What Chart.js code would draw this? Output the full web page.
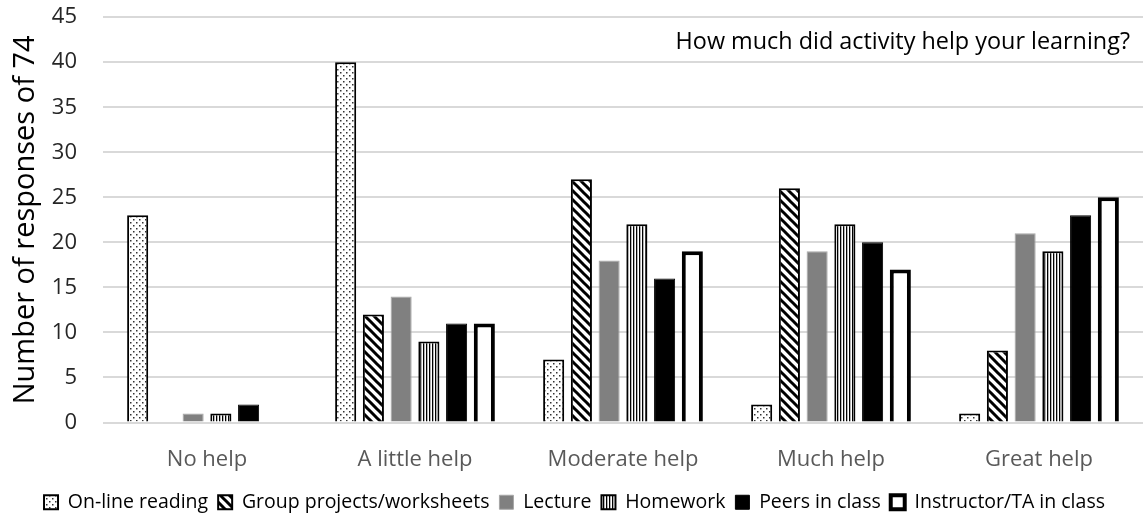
<!DOCTYPE html>
<html>
<head>
<meta charset="utf-8">
<script src="https://cdn.jsdelivr.net/npm/chart.js@4"></script>
<style>
    body { margin: 0; background: #fff; }
    #frame { width: 1145px; height: 516px; position: relative; overflow: hidden; }
    #wrap { width: 1145px; height: 526px; position: absolute; left: 0; top: -4px; }
</style>
</head>
<body>
<div id="frame"><div id="wrap"><canvas id="helpChart"></canvas></div></div>
<script>
var categories = ['No help', 'A little help', 'Moderate help', 'Much help', 'Great help'];
var seriesNames = ['On-line reading', 'Group projects/worksheets', 'Lecture', 'Homework', 'Peers in class', 'Instructor/TA in class'];
var onlineReading = [23, 40, 7, 2, 1];
var groupProjects = [0, 12, 27, 26, 8];
var lecture = [1, 14, 18, 19, 21];
var homework = [1, 9, 22, 22, 19];
var peers = [2, 11, 16, 20, 23];
var instructor = [0, 11, 19, 17, 25];
var yTicks = [0, 5, 10, 15, 20, 25, 30, 35, 40, 45];

var FONT = "'Open Sans', sans-serif";

function makeTile(w, h, draw) {
    var c = document.createElement('canvas');
    c.width = w;
    c.height = h;
    var g = c.getContext('2d');
    g.fillStyle = '#fff';
    g.fillRect(0, 0, w, h);
    draw(g);
    return document.createElement('canvas').getContext('2d').createPattern(c, 'repeat');
}

// dotted fill
var dots = makeTile(6, 6, function (g) {
    g.fillStyle = '#333';
    g.fillRect(1, 1, 1.5, 1.5);
    g.fillRect(4, 4, 1.5, 1.5);
});

// wide downward diagonal
var diag = makeTile(9, 9, function (g) {
    g.strokeStyle = '#000';
    g.lineWidth = 3;
    g.beginPath();
    g.moveTo(-2, -2); g.lineTo(11, 11);
    g.moveTo(-11, -2); g.lineTo(2, 11);
    g.moveTo(7, -2); g.lineTo(20, 11);
    g.stroke();
});

// narrow vertical lines
var vlines = makeTile(3, 3, function (g) {
    g.fillStyle = '#000';
    g.fillRect(0, 0, 1.3, 3);
});

// canvas sits 4px higher than the page frame
var titlePlugin = {
    id: 'cornerTitle',
    afterDraw: function (chart) {
        var ctx = chart.ctx;
        ctx.save();
        ctx.font = '23.4px ' + FONT;
        ctx.fillStyle = '#000';
        ctx.textAlign = 'right';
        ctx.textBaseline = 'middle';
        ctx.fillText('How much did activity help your learning?', 1130, 46);
        ctx.restore();
    }
};

var ctx = document.getElementById('helpChart');
var myChart = new Chart(ctx, {
    type: 'bar',
    data: {
        labels: categories,
        datasets: [
            { label: seriesNames[0], data: onlineReading, backgroundColor: dots, borderColor: '#000', borderWidth: 2 },
            { label: seriesNames[1], data: groupProjects, backgroundColor: diag, borderColor: '#000', borderWidth: 2 },
            { label: seriesNames[2], data: lecture, backgroundColor: '#808080', borderColor: '#a6a6a6', borderWidth: 1 },
            { label: seriesNames[3], data: homework, backgroundColor: vlines, borderColor: '#000', borderWidth: 2 },
            { label: seriesNames[4], data: peers, backgroundColor: '#000', borderColor: '#000', borderWidth: 1 },
            { label: seriesNames[5], data: instructor, backgroundColor: '#fff', borderColor: '#000', borderWidth: 4 }
        ]
    },
    options: {
        responsive: true,
        maintainAspectRatio: false,
        animation: false,
        layout: { padding: { top: 0, right: 2, left: 6, bottom: 0 } },
        datasets: {
            bar: { categoryPercentage: 0.8, barPercentage: 0.76 }
        },
        plugins: {
            legend: {
                position: 'bottom',
                labels: {
                    font: { family: FONT, size: 19.5 },
                    color: '#000',
                    boxWidth: 14,
                    boxHeight: 14,
                    padding: 10
                }
            },
            tooltip: { enabled: false }
        },
        scales: {
            x: {
                grid: { display: false },
                border: { display: false },
                ticks: { font: { family: FONT, size: 22 }, color: '#595959', padding: 16 },
                afterFit: function (axis) {
                    axis.height = 60;
                }
            },
            y: {
                min: 0,
                max: 45,
                afterBuildTicks: function (axis) {
                    axis.ticks = yTicks.map(function (v) { return { value: v }; });
                },
                afterFit: function (axis) {
                    axis.width = 97;
                },
                // invisible tick marks keep the labels away from the plot
                grid: { color: '#d9d9d9', lineWidth: 2, drawTicks: true, tickLength: 18, tickColor: 'rgba(0,0,0,0)' },
                border: { display: false },
                ticks: { font: { family: FONT, size: 22 }, color: '#262626', padding: 8 },
                title: {
                    display: true,
                    text: 'Number of responses of 74',
                    font: { family: FONT, size: 29 },
                    color: '#000',
                    padding: 2
                }
            }
        }
    },
    plugins: [titlePlugin]
});
</script>
</body>
</html>
